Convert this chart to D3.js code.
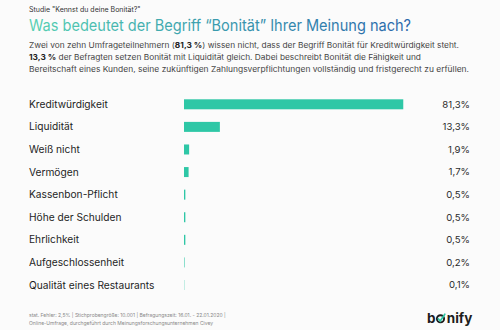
<!DOCTYPE html>
<html><head><meta charset="utf-8">
<script src="https://cdn.jsdelivr.net/npm/d3@7"></script>
<style>
html,body{margin:0;padding:0;background:#fbfbfb;}
svg{display:block;font-family:Inter, "Noto Sans", sans-serif;}
</style></head>
<body>
<svg id="c" width="500" height="330"></svg>
<script>
const categories = ["Kreditwürdigkeit","Liquidität","Weiß nicht","Vermögen","Kassenbon-Pflicht","Höhe der Schulden","Ehrlichkeit","Aufgeschlossenheit","Qualität eines Restaurants"];
const values = [81.3,13.3,1.9,1.7,0.5,0.5,0.5,0.2,0.1];
const valueLabels = ["81,3%","13,3%","1,9%","1,7%","0,5%","0,5%","0,5%","0,2%","0,1%"];
const studyLabel = "Studie \"Kennst du deine Bonität?\"";
const titleText = "Was bedeutet der Begriff \u201CBonität\u201D Ihrer Meinung nach?";
const footerLines = ["stat. Fehler: 2,5% | Stichprobengröße: 10.001 | Befragungszeit: 16.01. - 22.01.2020 |","Online-Umfrage, durchgeführt durch Meinungsforschungsunternehmen Civey"];

const svg = d3.select("#c");
const defs = svg.append("defs");
const grad = defs.append("linearGradient").attr("id","tg").attr("gradientUnits","userSpaceOnUse")
  .attr("x1",29).attr("x2",411).attr("y1",0).attr("y2",0);
grad.append("stop").attr("offset","0%").attr("stop-color","#56d0b2");
grad.append("stop").attr("offset","45%").attr("stop-color","#3b9fae");
grad.append("stop").attr("offset","100%").attr("stop-color","#2a67ab");

svg.append("text").attr("x",29).attr("y",11.5).attr("font-size",7).attr("fill","#333").text(studyLabel);
const t = svg.append("text").attr("x",29).attr("y",31).attr("font-size",16).attr("fill","url(#tg)").text(titleText);
t.attr("textLength",382).attr("lengthAdjust","spacingAndGlyphs");

const para = svg.append("g").attr("font-size",7.6).attr("fill","#444");
const l1 = para.append("text").attr("x",29).attr("y",48);
l1.append("tspan").text("Zwei von zehn Umfrageteilnehmern (");
l1.append("tspan").attr("font-weight",700).attr("fill","#222").text("81,3 %");
l1.append("tspan").text(") wissen nicht, dass der Begriff Bonität für Kreditwürdigkeit steht.");
const l2 = para.append("text").attr("x",29).attr("y",60);
l2.append("tspan").attr("font-weight",700).attr("fill","#222").text("13,3 %");
l2.append("tspan").text(" der Befragten setzen Bonität mit Liquidität gleich. Dabei beschreibt Bonität die Fähigkeit und");
const l3 = para.append("text").attr("x",29).attr("y",72)
  .text("Bereitschaft eines Kunden, seine zukünftigen Zahlungsverpflichtungen vollständig und fristgerecht zu erfüllen.");
[[l1,430],[l2,392],[l3,440]].forEach(([el,w])=>el.attr("textLength",w).attr("lengthAdjust","spacingAndGlyphs"));

const x = d3.scaleLinear().domain([0,100]).range([184,184+269.7]);
const y = d3.scalePoint().domain(categories).range([104.3,285]);
const bh = 10;

const rows = svg.append("g");
categories.forEach((c,i)=>{
  rows.append("text").attr("x",29).attr("y",y(c)).attr("dy","0.35em").attr("font-size",10.2).attr("fill","#1e1e1e").text(c);
  rows.append("rect").attr("x",x(0)).attr("y",y(c)-bh/2)
    .attr("width",x(values[i])-x(0)).attr("height",bh).attr("fill","#2ec7a6");
  rows.append("text").attr("x",470).attr("y",y(c)).attr("dy","0.35em").attr("text-anchor","end")
    .attr("font-size",9.6).attr("fill","#2a2a2a").text(valueLabels[i]);
});

const f = svg.append("g").attr("font-size",5).attr("fill","#888");
footerLines.forEach((s,i)=>f.append("text").attr("x",29).attr("y",317+i*7.5).text(s));

// logo
const logo = svg.append("g").attr("font-size",13.5).attr("font-weight",700).attr("fill","#1d1d1d");
logo.append("text").attr("x",427).attr("y",323).text("b");
logo.append("circle").attr("cx",440.5).attr("cy",318.8).attr("r",3.6).attr("fill","none").attr("stroke","#1d1d1d").attr("stroke-width",1.9);
logo.append("path").attr("d","M438.3,318.8 L440.2,321 L444.8,314.2").attr("fill","none").attr("stroke","#2ec7a6").attr("stroke-width",1.7).attr("stroke-linecap","round");
logo.append("text").attr("x",446.8).attr("y",323).text("nify");
</script>
</body></html>
